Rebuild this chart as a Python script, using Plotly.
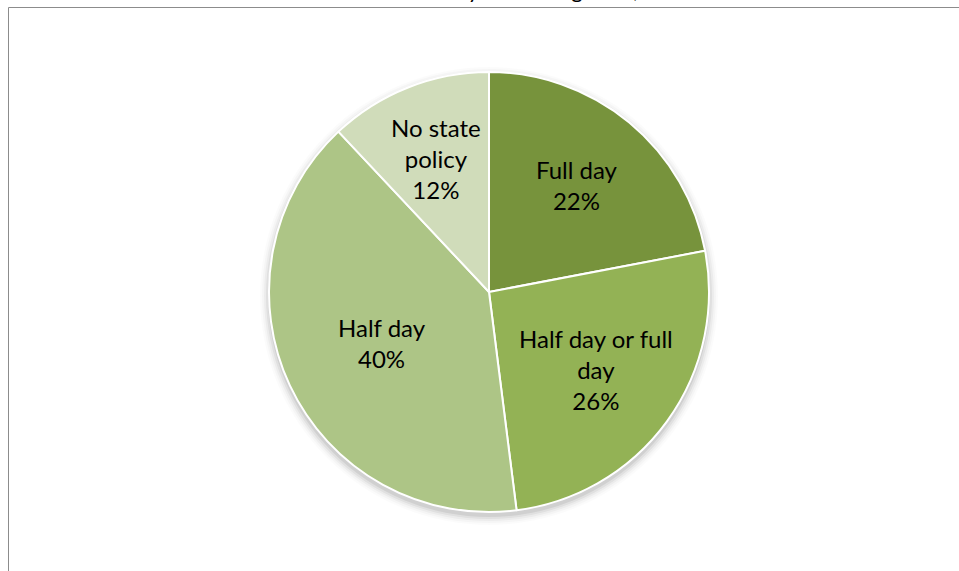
import math
import plotly.graph_objects as go

# Share of states by required kindergarten day length
categories = ["Full day", "Half day or full day", "Half day", "No state policy"]
label_lines = ["Full day", "Half day or full<br>day", "Half day", "No state<br>policy"]
shares = [22, 26, 40, 12]
colors = ["#77933C", "#93B255", "#ADC586", "#D0DCBA"]

# Radial placement of each data label, as a fraction of the radius
label_radius = [0.63, 0.60, 0.54, 0.655]

W, H = 959, 571
CX, CY, R = 489, 292, 220  # pie centre and radius in pixels


def px_x(x):
    return x / W


def px_y(y):
    return 1 - y / H


fig = go.Figure()

fig.add_trace(go.Pie(
    labels=categories,
    values=shares,
    sort=False,
    direction="clockwise",
    rotation=0,
    marker=dict(colors=colors, line=dict(color="white", width=2)),
    textinfo="none",
    hoverinfo="label+percent",
    showlegend=False,
    domain=dict(x=[px_x(CX - R), px_x(CX + R)], y=[px_y(CY + R), px_y(CY - R)]),
))

# Soft drop shadow under the pie
shapes = []
for k, op in [(9, 0.015), (7, 0.025), (5, 0.035), (3, 0.05), (1, 0.07)]:
    rr = R + k
    cy = CY + 4
    shapes.append(dict(
        type="circle", xref="paper", yref="paper", layer="below",
        x0=px_x(CX - rr), x1=px_x(CX + rr),
        y0=px_y(cy + rr), y1=px_y(cy - rr),
        fillcolor=f"rgba(0,0,0,{op})", line=dict(width=0),
    ))

# Chart-area frame
shapes.append(dict(
    type="rect", xref="paper", yref="paper", layer="below",
    x0=px_x(8.5), x1=px_x(W + 20), y0=px_y(H + 20), y1=px_y(7.5),
    line=dict(color="#8C8C8C", width=1), fillcolor="rgba(0,0,0,0)",
))

# Data labels placed along each slice's mid-angle
annotations = []
total = sum(shares)
cum = 0
for text, v, fr in zip(label_lines, shares, label_radius):
    mid = (cum + v / 2) / total * 2 * math.pi
    cum += v
    lx = CX + fr * R * math.sin(mid)
    ly = CY - fr * R * math.cos(mid)
    annotations.append(dict(
        x=px_x(lx), y=px_y(ly), xref="paper", yref="paper",
        text=f"{text}<br>{round(v / total * 100)}%",
        showarrow=False, xanchor="center", yanchor="middle",
        font=dict(family="Lato, Carlito, sans-serif", size=24, color="#000000"),
    ))

# Chart title, running off the top edge of the page
annotations.append(dict(
    x=px_x(485), y=px_y(5), xref="paper", yref="paper",
    text="Minimum Instructional Day in Kindergarten, 2013-2014",
    showarrow=False, xanchor="center", yanchor="bottom",
    font=dict(family="Lato, Carlito, sans-serif", size=22, color="#000000"),
))

fig.update_layout(
    width=W, height=H,
    margin=dict(l=0, r=0, t=0, b=0),
    paper_bgcolor="white",
    plot_bgcolor="white",
    shapes=shapes,
    annotations=annotations,
)

fig.write_html("out.html")
